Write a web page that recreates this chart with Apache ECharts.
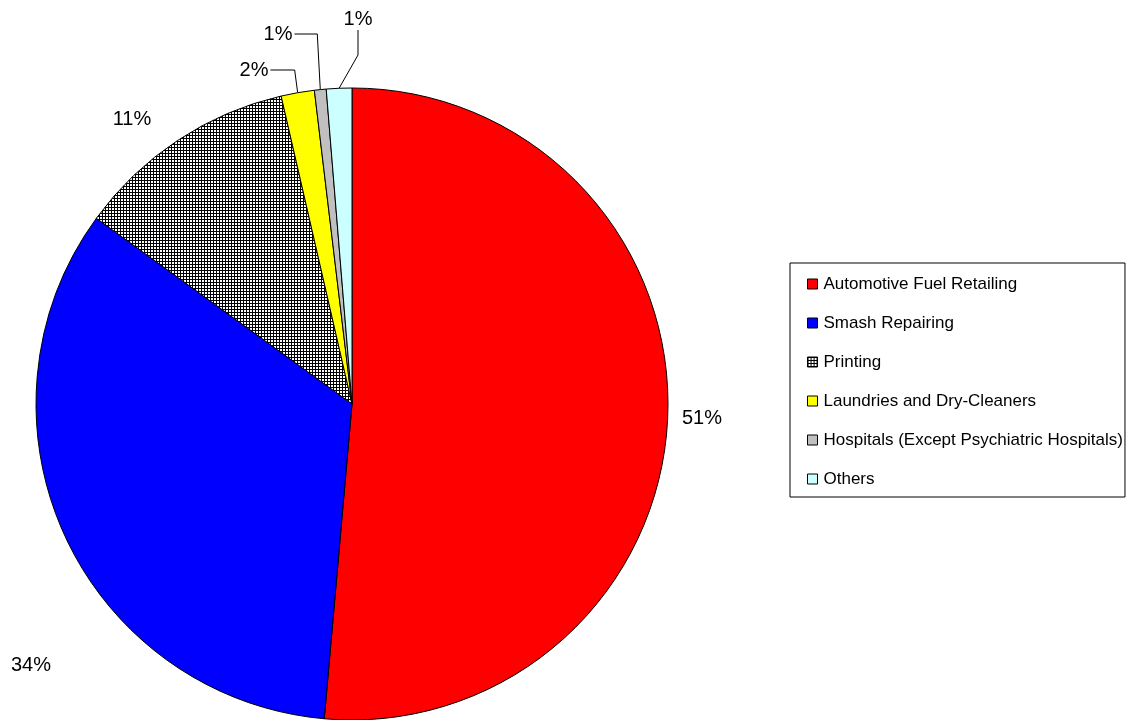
<!DOCTYPE html>
<html>
<head>
<meta charset="utf-8">
<script src="https://cdn.jsdelivr.net/npm/echarts@6/dist/echarts.min.js"></script>
<style>html,body{margin:0;padding:0;background:#fff}#c{width:1129px;height:720px}</style>
</head>
<body>
<div id="c"></div>
<script>
const categories = ['Automotive Fuel Retailing', 'Smash Repairing', 'Printing', 'Laundries and Dry-Cleaners', 'Hospitals (Except Psychiatric Hospitals)', 'Others'];
const values = [51.4, 33.6, 11.4, 1.7, 0.6, 1.3];
const colors = ['#FF0000', '#0000FF', 'pattern', '#FFFF00', '#C0C0C0', '#CCFFFF'];
const labelPositions = [[702, 418], [31, 665], [132, 119], [254, 70], [278, 34], [358, 19]];

function makePattern() {
  const cv = document.createElement('canvas');
  cv.width = 3; cv.height = 3;
  const ctx = cv.getContext('2d');
  ctx.fillStyle = '#fff'; ctx.fillRect(0, 0, 3, 3);
  ctx.fillStyle = '#000';
  ctx.fillRect(0, 0, 3, 1);
  ctx.fillRect(0, 0, 1, 3);
  return { image: cv, repeat: 'repeat' };
}
const pattern = makePattern();

const data = categories.map((n, i) => ({
  name: n,
  value: values[i],
  itemStyle: { color: colors[i] === 'pattern' ? pattern : colors[i] },
  labelLine: { show: i >= 3 }
}));

const chart = echarts.init(document.getElementById('c'), null, { renderer: 'canvas' });
chart.setOption({
  animation: false,
  backgroundColor: '#fff',
  legend: {
    orient: 'vertical',
    left: 790,
    top: 263,
    padding: [12, 2, 9, 17],
    borderColor: '#000',
    borderWidth: 1,
    itemWidth: 10,
    itemHeight: 10,
    itemGap: 21,
    icon: 'rect',
    itemStyle: { borderColor: '#000', borderWidth: 1 },
    textStyle: { fontFamily: 'Liberation Sans, Arial, sans-serif', fontSize: 17, color: '#000', lineHeight: 18, padding: [0, 0, 0, 1] },
    data: categories
  },
  series: [{
    type: 'pie',
    center: [352, 404],
    radius: 316,
    startAngle: 90,
    clockwise: true,
    avoidLabelOverlap: false,
    itemStyle: { borderColor: '#000', borderWidth: 1 },
    label: {
      show: true,
      position: 'outside',
      formatter: p => Math.round(p.value) + '%',
      fontFamily: 'Liberation Sans, Arial, sans-serif',
      fontSize: 20,
      color: '#000'
    },
    labelLine: { show: false, length: 15, length2: 15, smooth: false, lineStyle: { color: '#000', width: 1 } },
    labelLayout: function (params) {
      const i = params.dataIndex;
      const p = labelPositions[i];
      const out = { x: p[0], y: p[1], align: 'center', verticalAlign: 'middle' };
      const w = params.labelRect.width, h = params.labelRect.height;
      if (i >= 3 && params.labelLinePoints) {
        const p0 = params.labelLinePoints[0];
        if (i === 5) {
          out.labelLinePoints = [p0, [p[0], p[1] + 36], [p[0], p[1] + h / 2 + 1]];
        } else {
          out.labelLinePoints = [p0, [p0[0] - 3, p[1]], [p[0] + w / 2 + 2, p[1]]];
        }
      }
      return out;
    },
    data: data
  }]
});
</script>
</body>
</html>
